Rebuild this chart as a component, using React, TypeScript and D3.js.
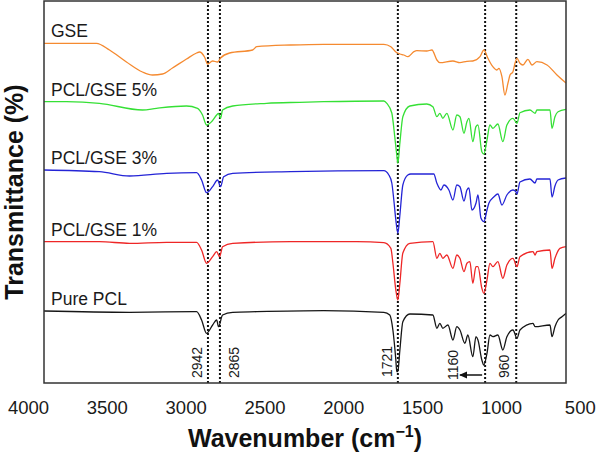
import React from 'react';
import * as d3 from 'd3';

const W = 596;
const H = 455;

// Axis tick labels (as printed on the figure)
const tickLabels = [4000, 3500, 3000, 2500, 2000, 1500, 1000, 500];

// Series (stacked, arbitrary transmittance units) [wavenumber, value]
const seriesNames = ['GSE', 'PCL/GSE 5%', 'PCL/GSE 3%', 'PCL/GSE 1%', 'Pure PCL'];
const seriesColors = ['#f58a30', '#35e035', '#2424d6', '#ee2626', '#161616'];

const gse: [number, number][] = [
  [4000, 339.7], [3659, 339.7], [3575, 333], [3466, 321], [3363, 311], [3298, 308], [3234, 309],
  [3170, 315], [3080, 324], [3015, 330], [2996, 331], [2964, 326], [2944, 319], [2912, 322],
  [2880, 321], [2861, 325], [2803, 330], [2655, 333], [2629, 336.3], [2410, 338], [2198, 338.7],
  [1811, 338.7], [1766, 336.3], [1734, 331], [1708, 329], [1683, 328], [1657, 326.3], [1618, 331.3],
  [1599, 332.3], [1535, 332], [1502, 333], [1470, 323], [1451, 320.3], [1367, 322], [1322, 320.3],
  [1277, 321.7], [1239, 322], [1193, 326.3], [1168, 333], [1142, 324.7], [1110, 316.3], [1084, 313],
  [1071, 314.7], [1052, 306.3], [1033, 288], [1013, 300], [1000, 308], [981, 311.3], [968, 319.7],
  [955, 324.7], [936, 319.7], [917, 318], [885, 323.7], [859, 318], [827, 321.3], [762, 318],
  [698, 308], [640, 300],
];

const pclGse5: [number, number][] = [
  [4000, 281.3], [3852, 281.3], [3640, 279.7], [3363, 273], [3273, 274.7], [3080, 277], [3009, 274.7],
  [2977, 268], [2951, 258], [2919, 261.3], [2886, 268], [2874, 269.7], [2861, 264.7], [2848, 273],
  [2783, 277], [2565, 279.7], [2352, 280.7], [2198, 281.3], [1811, 282], [1792, 279.7], [1760, 270],
  [1741, 246.3], [1728, 228], [1721, 219.7], [1708, 240], [1689, 266.3], [1644, 277], [1535, 279],
  [1496, 276.3], [1470, 266.3], [1451, 269.7], [1432, 264.7], [1406, 269.7], [1367, 253], [1342, 268],
  [1322, 266.3], [1296, 249.7], [1277, 261.3], [1264, 264.7], [1239, 241.3], [1219, 256.3], [1206, 258],
  [1181, 231.3], [1168, 229], [1148, 243], [1129, 258], [1110, 254.7], [1078, 259], [1046, 241.3],
  [1020, 258], [981, 264.7], [955, 259.7], [936, 270.3], [872, 273], [839, 269.7], [827, 273],
  [743, 273], [730, 254.7], [711, 266.3], [691, 271.3], [640, 273.7],
];

const pclGse3: [number, number][] = [
  [4000, 213], [3640, 211.3], [3446, 207], [3208, 209.7], [3015, 210.3], [2983, 203], [2951, 190.3],
  [2912, 196.3], [2880, 203], [2861, 196.3], [2841, 206.3], [2783, 209.7], [2410, 211.3], [1811, 212.3],
  [1779, 208], [1760, 200], [1747, 183], [1734, 163], [1721, 149.7], [1708, 168], [1689, 198],
  [1657, 208], [1638, 209], [1490, 209], [1470, 199.7], [1444, 193], [1425, 198], [1393, 193],
  [1367, 183], [1342, 198], [1322, 196.3], [1296, 182], [1277, 193], [1264, 195], [1245, 173],
  [1219, 179.7], [1206, 188], [1187, 165], [1168, 161.3], [1148, 173], [1136, 179.7], [1103, 186.3],
  [1078, 189], [1052, 178], [1020, 188], [981, 193], [962, 191.3], [955, 189], [936, 201], [872, 204],
  [839, 200], [827, 204], [743, 204], [730, 186], [711, 197], [691, 203], [640, 205],
];

const pclGse1: [number, number][] = [
  [4000, 141.3], [3640, 141.3], [3446, 139.7], [3208, 140.7], [3015, 140.7], [2983, 133], [2951, 119.7],
  [2912, 126.3], [2886, 131.3], [2867, 126.3], [2848, 136.3], [2783, 139.7], [2410, 141.3], [1985, 141.3],
  [1811, 140.3], [1766, 134.7], [1753, 120], [1734, 93], [1721, 83], [1708, 100], [1689, 130],
  [1644, 139.7], [1496, 141.3], [1470, 124.7], [1451, 129.7], [1432, 124.7], [1406, 128], [1367, 114.7],
  [1342, 128], [1322, 124.7], [1296, 111.3], [1277, 119.7], [1258, 121.3], [1239, 99.7], [1219, 116.3],
  [1206, 116.3], [1181, 94.7], [1168, 89.7], [1148, 103], [1129, 119.7], [1110, 116.3], [1078, 121.3],
  [1046, 104.7], [1020, 118], [981, 124.7], [955, 116.3], [936, 126.3], [852, 131.3], [839, 128],
  [827, 131.3], [743, 133], [730, 114.7], [711, 124.7], [679, 134.7], [640, 136.3],
];

const purePcl: [number, number][] = [
  [4000, 72], [3446, 70.7], [3015, 71.3], [2983, 63], [2951, 49.7], [2912, 58], [2886, 63],
  [2874, 56.3], [2848, 68], [2783, 70.7], [2629, 71.3], [2198, 72.3], [1811, 70.7], [1773, 68],
  [1753, 53], [1734, 23], [1728, 11.3], [1721, 12], [1708, 33], [1689, 61.3], [1644, 69], [1496, 68],
  [1470, 54.7], [1451, 59.7], [1432, 54.7], [1399, 58], [1367, 43], [1342, 56.3], [1322, 53],
  [1290, 39.7], [1271, 48], [1239, 26.3], [1219, 46.3], [1206, 43], [1181, 23], [1168, 18],
  [1148, 29.7], [1129, 48], [1110, 46.3], [1078, 48], [1046, 33], [1020, 46.3], [981, 53], [955, 44.7],
  [936, 53], [852, 59.7], [839, 56.3], [743, 58], [730, 46.3], [711, 56.3], [691, 63], [666, 66.3],
  [640, 69.7],
];

const seriesData = [gse, pclGse5, pclGse3, pclGse1, purePcl];

// Marked peaks
const peakValues = [2942, 2865, 1721, 1160, 960];
const peakLabels = ['2942', '2865', '1721', '1160', '960'];

export default function App() {
  const left = 44, right = 566, top = 1, bottom = 383;
  const x = d3.scaleLinear().domain([4000, 640]).range([43.4, 566]);
  const xLabel = d3.scaleLinear().domain([4000, 500]).range([28.5, 580.3]);
  const y = d3.scaleLinear().domain([0, 382]).range([bottom, top]);
  const line = d3
    .line<[number, number]>()
    .x((d) => x(d[0]))
    .y((d) => y(d[1]))
    .curve(d3.curveMonotoneX);

  const font = "'Liberation Sans', Arial, Helvetica, sans-serif";
  const peakDx = [-6, 19, -6, -27.5, -7.5];
  const peakY = [378, 378, 377, 380, 378];

  return (
    <svg
      width={W}
      height={H}
      style={{ position: 'absolute', left: 0, top: 0, background: '#fff' }}
      fontFamily={font}
    >
      <defs>
        <clipPath id="plotclip">
          <rect x={left} y={top} width={right - left} height={bottom - top} />
        </clipPath>
        <marker id="arrowhead" markerWidth="8" markerHeight="8" refX="7" refY="4" orient="auto" markerUnits="userSpaceOnUse">
          <path d="M0,0.5 L8,4 L0,7.5 z" fill="#111" />
        </marker>
      </defs>
      <rect x={0} y={0} width={W} height={H} fill="#fff" />

      {/* dotted peak lines */}
      {peakValues.map((p, i) => (
        <line
          key={'pk' + i}
          x1={x(p)}
          x2={x(p)}
          y1={top}
          y2={bottom}
          stroke="#111"
          strokeWidth={2}
          strokeDasharray="2 2"
        />
      ))}

      <g clipPath="url(#plotclip)">
        {seriesData.map((s, i) => (
          <path
            key={'s' + i}
            d={line(s) || ''}
            fill="none"
            stroke={seriesColors[i]}
            strokeWidth={1.3}
            strokeLinejoin="round"
          />
        ))}
      </g>

      {seriesNames.map((n, i) => (
        <text key={'n' + i} x={51} y={y(seriesData[i][0][1]) - 6} fontSize={17.5} fill="#1a1a1a">
          {n}
        </text>
      ))}

      {peakLabels.map((t, i) => {
        const px = x(peakValues[i]) + peakDx[i];
        const py = peakY[i];
        return (
          <text key={'pl' + i} x={0} y={0} transform={`translate(${px},${py}) rotate(-90)`} fontSize={14} fill="#1a1a1a">
            {t}
          </text>
        );
      })}

      {/* arrow next to 1160 */}
      <line
        x1={x(peakValues[3]) - 3}
        x2={x(peakValues[3]) - 25}
        y1={375}
        y2={375}
        stroke="#111"
        strokeWidth={1.5}
        markerEnd="url(#arrowhead)"
      />

      {/* frame */}
      <rect x={left} y={top} width={right - left} height={bottom - top} fill="none" stroke="#333" strokeWidth={1.5} />

      {tickLabels.map((t) => (
        <text key={'t' + t} x={xLabel(t)} y={413.5} textAnchor="middle" fontSize={18.5} fill="#1a1a1a">
          {t}
        </text>
      ))}

      <text x={(left + right) / 2} y={447} textAnchor="middle" fontSize={25} fontWeight="bold" fill="#111">
        Wavenumber (cm
        <tspan fontSize={16} dy={-10}>−1</tspan>
        <tspan dy={10}>)</tspan>
      </text>

      <text
        x={0}
        y={0}
        transform={`translate(23,${(top + bottom) / 2}) rotate(-90)`}
        textAnchor="middle"
        fontSize={25}
        fontWeight="bold"
        fill="#111"
      >
        Transmittance (%)
      </text>
    </svg>
  );
}
